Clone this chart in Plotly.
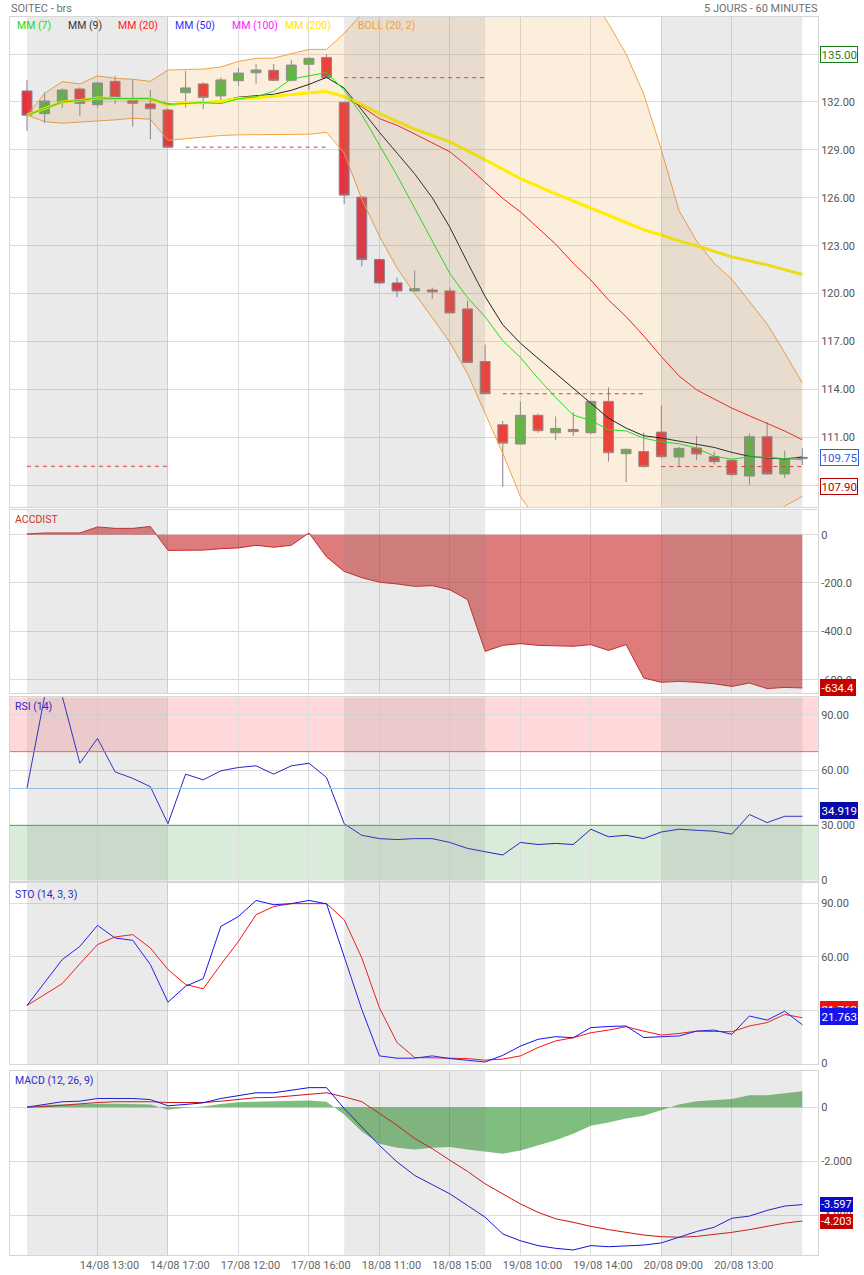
import plotly.graph_objects as go

# ---------------- data ----------------
idx = list(range(45))
opens = [132.69, 131.27, 131.98, 132.81, 131.83, 133.29, 132.14, 131.88, 131.50,
         132.58, 133.13, 132.38, 133.33, 133.83, 133.98, 133.36, 134.36, 134.79,
         131.98, 126.04, 122.13, 120.67, 120.17, 120.23, 120.17, 119.04, 115.75,
         111.79, 110.58, 112.38, 111.29, 111.50, 111.29, 113.25, 109.98, 110.11,
         111.33, 109.77, 110.33, 109.79, 109.56, 108.58, 111.04, 108.71, 109.67]
highs = [133.38, 132.60, 132.85, 132.92, 133.20, 133.63, 133.42, 132.75, 131.60,
         133.94, 133.23, 133.54, 134.13, 134.38, 134.38, 134.63, 134.80, 135.00,
         132.00, 126.10, 122.20, 121.00, 121.44, 120.38, 120.38, 119.56, 116.81,
         112.03, 113.25, 112.48, 112.31, 112.56, 113.30, 114.13, 110.30, 111.31,
         113.02, 110.40, 111.10, 110.11, 109.60, 111.25, 111.96, 110.17, 110.31]
lows = [130.20, 130.67, 131.64, 131.13, 131.64, 131.88, 130.46, 129.67, 129.17,
        131.64, 131.56, 131.86, 133.00, 133.14, 133.30, 133.30, 132.75, 133.50,
        125.60, 121.71, 120.60, 119.77, 120.10, 119.67, 118.79, 115.69, 113.73,
        107.90, 110.58, 111.29, 110.83, 111.08, 111.20, 109.48, 108.20, 109.10,
        109.70, 109.17, 109.58, 109.31, 108.60, 108.04, 108.67, 108.46, 109.27]
closes = [131.17, 132.06, 132.75, 131.92, 133.19, 132.29, 131.92, 131.58, 129.17,
          132.88, 132.29, 133.38, 133.81, 134.00, 133.36, 134.31, 134.73, 133.52,
          126.17, 122.13, 120.67, 120.17, 120.31, 120.11, 118.79, 115.69, 113.73,
          110.64, 112.38, 111.42, 111.56, 111.36, 113.25, 110.04, 110.25, 109.17,
          109.79, 110.31, 109.96, 109.48, 108.67, 111.04, 108.71, 109.67, 109.75]

ma7 = [131.17, 131.60, 132.00, 132.10, 132.25, 132.22, 132.20, 132.21, 131.85,
       131.90, 131.96, 131.90, 132.20, 132.33, 132.67, 133.44, 133.63, 133.84,
       132.75, 131.20, 129.30, 127.40, 125.35, 123.25, 121.25, 119.75, 118.55,
       117.05, 116.00, 114.70, 113.50, 112.40, 112.05, 111.48, 111.40, 110.95,
       110.72, 110.60, 110.33, 109.82, 109.63, 109.78, 109.75, 109.67, 109.60]
ma9 = [131.17, 131.58, 131.98, 132.08, 132.20, 132.18, 132.15, 132.15, 131.88,
       131.93, 131.97, 132.05, 132.30, 132.37, 132.48, 132.73, 133.10, 133.54,
       132.87, 131.50, 130.10, 128.80, 127.50, 126.00, 124.15, 121.95, 119.82,
       118.05, 116.90, 115.95, 115.00, 114.10, 113.15, 112.20, 111.58, 111.10,
       110.96, 110.75, 110.58, 110.37, 110.06, 109.81, 109.71, 109.65, 109.77]
ma20 = [131.17, 131.55, 131.98, 132.08, 132.22, 132.20, 132.17, 132.19, 131.77,
        131.92, 131.94, 132.02, 132.19, 132.25, 132.33, 132.44, 132.55, 132.62,
        132.30, 131.70, 130.96, 130.54, 130.00, 129.45, 128.88, 127.98, 127.00,
        125.96, 125.12, 124.10, 123.10, 121.90, 120.85, 119.60, 118.56, 117.35,
        116.06, 114.85, 113.98, 113.40, 112.83, 112.35, 111.90, 111.40, 110.85]
ma200 = [131.17, 131.58, 132.00, 132.10, 132.25, 132.22, 132.19, 132.21, 131.79,
         131.94, 131.96, 132.04, 132.21, 132.27, 132.35, 132.46, 132.58, 132.65,
         132.35, 131.85, 131.27, 130.79, 130.30, 129.90, 129.50, 128.95, 128.40,
         127.80, 127.20, 126.70, 126.25, 125.80, 125.35, 124.90, 124.45, 124.00,
         123.67, 123.30, 123.00, 122.65, 122.30, 122.05, 121.80, 121.50, 121.20]
boll_up = [131.17, 132.54, 133.27, 133.13, 133.63, 133.48, 133.42, 133.29, 134.00,
           134.04, 134.06, 134.19, 134.54, 134.73, 134.75, 135.02, 135.29, 135.29,
           136.30, 137.50, 138.40, 139.40, 140.00, 140.40, 140.80, 140.90, 141.50,
           142.00, 142.60, 142.30, 141.00, 139.70, 138.60, 136.90, 135.00, 132.50,
           129.00, 125.20, 123.30, 121.90, 120.90, 119.50, 118.10, 116.30, 114.40]
boll_lo = [131.17, 130.77, 130.67, 130.73, 130.79, 130.88, 130.98, 130.92, 129.60,
           129.71, 129.81, 129.90, 129.94, 129.94, 129.98, 129.98, 129.98, 130.10,
           128.80, 125.90, 123.60, 121.60, 120.00, 118.50, 116.95, 115.00, 112.55,
           110.00, 107.30, 105.70, 105.20, 104.30, 103.70, 102.20, 102.10, 102.30,
           103.10, 104.50, 104.70, 104.90, 104.80, 105.20, 105.80, 106.70, 107.30]

prev_close = [109.19, 129.17, 133.52, 113.73, 109.17]
day_first = [0, 9, 18, 27, 36]
day_last = [8, 17, 26, 35, 44]
shaded_days = [(0, 8), (18, 26), (36, 44)]

accdist = [3, 7, 7, 7, 32, 26, 26, 34, -65, -66, -64, -58, -55, -44, -52, -44, 7,
           -92, -152, -178, -197, -204, -214, -211, -228, -269, -483, -458, -451,
           -458, -460, -462, -455, -479, -455, -593, -611, -607, -611, -617, -628,
           -614, -637, -632, -634.4]
rsi = [50.1, 100, 100, 63.7, 77.2, 59.0, 55.5, 51.0, 30.9, 57.8, 54.7, 59.6, 61.4,
       62.3, 57.8, 62.3, 63.7, 56.0, 30.9, 24.6, 22.8, 22.3, 22.8, 22.8, 20.7, 17.5,
       15.7, 13.9, 20.7, 19.6, 20.2, 19.6, 27.9, 23.8, 24.6, 22.8, 26.4, 27.9, 27.3,
       26.8, 25.2, 35.9, 31.5, 34.9, 34.919]
rsi_levels = [70, 50, 30]
sto_k = [32.6, 45.5, 58.4, 65.8, 77.6, 70.5, 69.2, 55.6, 34.5, 43.4, 47.7, 77.0, 82.6,
         91.6, 89.2, 89.8, 91.6, 89.7, 60.2, 30.4, 4.3, 3.0, 3.0, 4.3, 2.8, 1.9, 0.9,
         4.6, 9.8, 13.6, 15.1, 14.5, 20.2, 20.8, 21.1, 14.6, 15.1, 15.5, 18.2, 18.8,
         16.4, 26.7, 24.4, 29.4, 21.763]
sto_d = [32.6, 38.8, 44.9, 56.0, 66.8, 71.1, 72.4, 64.9, 52.8, 44.4, 42.0, 55.6, 68.6,
         83.6, 88.2, 89.8, 89.8, 89.8, 80.8, 59.3, 31.3, 11.8, 3.4, 3.4, 3.0, 2.8, 1.9,
         2.5, 4.3, 9.0, 12.7, 14.5, 17.3, 18.8, 20.7, 18.2, 16.0, 16.9, 18.2, 18.0,
         17.9, 21.1, 23.0, 27.6, 25.7]
macd = [0, 0.10, 0.20, 0.22, 0.32, 0.32, 0.32, 0.28, 0.05, 0.10, 0.16, 0.32, 0.42,
        0.53, 0.53, 0.63, 0.72, 0.72, -0.05, -0.73, -1.41, -2.02, -2.52, -2.86, -3.20,
        -3.63, -4.06, -4.68, -4.93, -5.11, -5.21, -5.27, -5.11, -5.15, -5.11, -5.09,
        -5.01, -4.80, -4.59, -4.43, -4.10, -4.02, -3.81, -3.65, -3.597]
macd_sig = [0, 0.02, 0.07, 0.13, 0.17, 0.20, 0.21, 0.20, 0.17, 0.16, 0.17, 0.22, 0.28,
            0.35, 0.36, 0.42, 0.47, 0.53, 0.38, 0.20, -0.23, -0.67, -1.16, -1.53, -1.96,
            -2.37, -2.83, -3.20, -3.57, -3.88, -4.12, -4.25, -4.40, -4.52, -4.62, -4.72,
            -4.78, -4.80, -4.77, -4.70, -4.62, -4.52, -4.41, -4.28, -4.203]
macd_hist = [0, 0.08, 0.10, 0.12, 0.13, 0.13, 0.12, 0.10, -0.10, -0.02, 0.02, 0.12, 0.18,
             0.20, 0.20, 0.22, 0.25, 0.20, -0.27, -0.90, -1.35, -1.50, -1.56, -1.50, -1.47,
             -1.56, -1.63, -1.72, -1.60, -1.41, -1.22, -0.98, -0.69, -0.57, -0.42, -0.32,
             -0.11, 0.10, 0.22, 0.27, 0.30, 0.44, 0.44, 0.51, 0.59]

tick_idx = [4, 8, 12, 16, 20, 24, 28, 32, 36, 40]
tick_labels = ["14/08 13:00", "14/08 17:00", "17/08 12:00", "17/08 16:00", "18/08 11:00",
               "18/08 15:00", "19/08 10:00", "19/08 14:00", "20/08 09:00", "20/08 13:00"]

price_ticks = [108, 111, 114, 117, 120, 123, 126, 129, 132, 135]
acc_ticks = [0, -200, -400, -600]
acc_labels = ["0", "-200.0", "-400.0", "-600.0"]
rsi_ticks = [0, 30, 60, 90]
rsi_labels = ["0", "30.000", "60.00", "90.00"]
sto_ticks = [0, 30, 60, 90]
sto_labels = ["0", "30.00", "60.00", "90.00"]
macd_ticks = [0, -2, -4]
macd_labels = ["0", "-2.000", "-4.000"]

# ---------------- geometry helpers ----------------
W, H = 864, 1275
ML, MR, MT, MB = 10, 46, 17, 20
PW, PH = W - ML - MR, H - MT - MB


def px2x(px):
    return (px - ML) / PW


def py2y(py):
    return (H - MB - py) / PH


GRID = "#DCDCDC"
BORDER = "#D6D6D6"
TICKFONT = dict(family="Roboto", size=11, color="#555555")

fig = go.Figure()

# Bollinger band
fig.add_trace(go.Scatter(x=idx, y=boll_up, mode="lines", line=dict(color="#F4A340", width=1),
                         xaxis="x", yaxis="y", showlegend=False, hoverinfo="skip"))
fig.add_trace(go.Scatter(x=idx, y=boll_lo, mode="lines", line=dict(color="#F4A340", width=1),
                         fill="tonexty", fillcolor="rgba(240,160,60,0.18)",
                         xaxis="x", yaxis="y", showlegend=False, hoverinfo="skip"))

# previous close dashed lines
for a, b, v in zip(day_first, day_last, prev_close):
    fig.add_trace(go.Scatter(x=[a, b], y=[v, v], mode="lines",
                             line=dict(color="#E53935", width=1, dash="4px,4px"),
                             xaxis="x", yaxis="y", showlegend=False, hoverinfo="skip"))

# candles
fig.add_trace(go.Candlestick(
    x=idx, open=opens, high=highs, low=lows, close=closes,
    increasing=dict(fillcolor="#48B848", line=dict(color="#7C8A9C", width=1)),
    decreasing=dict(fillcolor="#EC2E3C", line=dict(color="#8C7C8E", width=1)),
    whiskerwidth=0, xaxis="x", yaxis="y", showlegend=False))

# moving averages
fig.add_trace(go.Scatter(x=idx, y=ma20, mode="lines", line=dict(color="#FF1A1A", width=1),
                         xaxis="x", yaxis="y", showlegend=False))
fig.add_trace(go.Scatter(x=idx, y=ma9, mode="lines", line=dict(color="#222222", width=1),
                         xaxis="x", yaxis="y", showlegend=False))
fig.add_trace(go.Scatter(x=idx, y=ma200, mode="lines", line=dict(color="#FFEE00", width=3),
                         xaxis="x", yaxis="y", showlegend=False))
fig.add_trace(go.Scatter(x=idx, y=ma7, mode="lines", line=dict(color="#1EE01E", width=1),
                         xaxis="x", yaxis="y", showlegend=False))

# ACCDIST
fig.add_trace(go.Scatter(x=idx, y=accdist, mode="lines", line=dict(color="#C62828", width=1),
                         fill="tozeroy", fillcolor="rgba(200,35,35,0.6)",
                         xaxis="x", yaxis="y2", showlegend=False))

# RSI
fig.add_trace(go.Scatter(x=idx, y=rsi, mode="lines", line=dict(color="#2424C8", width=1),
                         xaxis="x", yaxis="y3", showlegend=False))

# STO
fig.add_trace(go.Scatter(x=idx, y=sto_d, mode="lines", line=dict(color="#FF1010", width=1),
                         xaxis="x", yaxis="y4", showlegend=False))
fig.add_trace(go.Scatter(x=idx, y=sto_k, mode="lines", line=dict(color="#1010FF", width=1),
                         xaxis="x", yaxis="y4", showlegend=False))

# MACD
fig.add_trace(go.Scatter(x=idx, y=macd_hist, mode="lines", line=dict(color="rgba(0,0,0,0)", width=0),
                         fill="tozeroy", fillcolor="rgba(0,125,0,0.5)",
                         xaxis="x", yaxis="y5", showlegend=False))
fig.add_trace(go.Scatter(x=idx, y=macd_sig, mode="lines", line=dict(color="#D01010", width=1),
                         xaxis="x", yaxis="y5", showlegend=False))
fig.add_trace(go.Scatter(x=idx, y=macd, mode="lines", line=dict(color="#1010D8", width=1),
                         xaxis="x", yaxis="y5", showlegend=False))

# ---------------- shapes ----------------
shapes = []
shapes.append(dict(type="rect", xref="x domain", x0=0, x1=1, yref="y3", y0=rsi_levels[0], y1=99.5,
                   fillcolor="rgba(255,0,0,0.15)", line_width=0, layer="below"))
shapes.append(dict(type="rect", xref="x domain", x0=0, x1=1, yref="y3", y0=0, y1=rsi_levels[2],
                   fillcolor="rgba(0,128,0,0.15)", line_width=0, layer="below"))
for lv, col in zip(rsi_levels, ["#FF6060", "#9CC8F0", "#45A845"]):
    shapes.append(dict(type="line", xref="x domain", x0=0, x1=1, yref="y3", y0=lv, y1=lv,
                       line=dict(color=col, width=1), layer="above"))
for yr in ["y", "y2", "y3", "y4", "y5"]:
    for a, b in shaded_days:
        shapes.append(dict(type="rect", xref="x", x0=a, x1=b, yref=f"{yr} domain", y0=0, y1=1,
                           fillcolor="rgba(128,128,128,0.17)", line_width=0, layer="above"))

# ---------------- annotations ----------------
ann = []
ann.append(dict(xref="paper", yref="paper", x=px2x(9), y=py2y(9), xanchor="left", yanchor="middle",
                text="SOITEC - brs", showarrow=False, font=dict(family="Roboto", size=11, color="#707070")))
ann.append(dict(xref="paper", yref="paper", x=px2x(820), y=py2y(9), xanchor="right", yanchor="middle",
                text="5 JOURS - 60 MINUTES", showarrow=False,
                font=dict(family="Roboto", size=11, color="#707070")))

legend_items = [("MM (7)", "#22D822", 14.5), ("MM (9)", "#333333", 65.5), ("MM (20)", "#FF2020", 115.5),
                ("MM (50)", "#3030FF", 173), ("MM (100)", "#FF20FF", 230),
                ("MM (200)", "#FFE600", 282.5), ("BOLL (20, 2)", "#F4A040", 356)]
for t, c, px in legend_items:
    ann.append(dict(xref="paper", yref="paper", x=px2x(px), y=py2y(25), xanchor="left",
                    yanchor="middle", text=t, showarrow=False,
                    font=dict(family="Roboto", size=10.5, color=c)))

panel_titles = [("ACCDIST", "#D32F2F", 519), ("RSI (14)", "#2A2AD0", 706),
                ("STO (14, 3, 3)", "#2A2AD0", 894), ("MACD (12, 26, 9)", "#2A2AD0", 1080)]
for t, c, py in panel_titles:
    ann.append(dict(xref="paper", yref="paper", x=px2x(13), y=py2y(py), xanchor="left",
                    yanchor="middle", text=t, showarrow=False,
                    font=dict(family="Roboto", size=10.5, color=c)))


def box(yref, val, text, fg, bg, border, yanchor="middle", yshift=0, size=11.5, pad=0.5):
    return dict(xref="paper", x=px2x(820), xanchor="left", yref=yref, y=val, yanchor=yanchor,
                yshift=yshift, text=text, showarrow=False,
                font=dict(family="Roboto", size=size, color=fg), bgcolor=bg,
                bordercolor=border, borderwidth=1, borderpad=pad)


hi, lo, last = max(highs), min(lows), closes[-1]
ann.append(box("y", hi, f"{hi:.2f}", "#1B801B", "white", "#1B801B"))
ann.append(box("y", last, f"{last:.2f}", "#2F5FE0", "white", "#2F5FE0"))
ann.append(box("y", lo, f"{lo:.2f}", "#B00000", "white", "#B00000"))
ann.append(box("y2", accdist[-1], f"{accdist[-1]:.1f}", "white", "#C40000", "#C40000"))
ann.append(box("y3", rsi[-1], f"{rsi[-1]:.3f}", "white", "#0A0AA8", "#0A0AA8", yshift=6))
ann.append(box("y4", sto_d[-1], f"{sto_k[-1]:.3f}", "white", "#EE1010", "#EE1010", yanchor="bottom"))
ann.append(box("y4", sto_k[-1], f"{sto_k[-1]:.3f}", "white", "#1515EE", "#1515EE", yanchor="bottom"))
ann.append(box("y5", macd_sig[-1], f"{macd_sig[-1]:.3f}", "white", "#C40000", "#C40000", size=11, pad=0))
ann.append(box("y5", macd[-1], f"{macd[-1]:.3f}", "white", "#0A0ACC", "#0A0ACC", size=11, pad=0))


def yax(domain, rng, tv, tt):
    return dict(domain=domain, range=rng, side="right", anchor="x", tickvals=tv, ticktext=tt,
                showgrid=True, gridcolor=GRID, gridwidth=1, zeroline=False, showline=True,
                linecolor=BORDER, mirror=True, ticks="", tickfont=TICKFONT, fixedrange=True,
                automargin=False)


fig.update_layout(
    width=W, height=H, autosize=False,
    margin=dict(l=ML, r=MR, t=MT, b=MB, autoexpand=False),
    paper_bgcolor="white", plot_bgcolor="white",
    font=dict(family="Roboto", size=11, color="#555555"),
    showlegend=False, boxgap=0.2,
    xaxis=dict(domain=[0, 1], range=[-0.965, 44.89], anchor="y5", tickvals=tick_idx,
               ticktext=tick_labels, showgrid=True, gridcolor=GRID, zeroline=False,
               showline=True, linecolor=BORDER, mirror="all", ticks="", ticklabelshift=12,
               tickfont=dict(family="Roboto", size=11, color="#666666"),
               rangeslider=dict(visible=False), fixedrange=True, automargin=False),
    yaxis=yax([0.6042, 1.0], [106.64, 137.32], price_ticks, [f"{v:.2f}" for v in price_ticks]),
    yaxis2=yax([0.4540, 0.6015], [-655, 100.6], acc_ticks, acc_labels),
    yaxis3=yax([0.3024, 0.4505], [0, 99.5], rsi_ticks, rsi_labels),
    yaxis4=yax([0.1540, 0.3002], [-0.45, 101.2], sto_ticks, sto_labels),
    yaxis5=yax([0.0, 0.1486], [-5.456, 1.333], macd_ticks, macd_labels),
    shapes=shapes, annotations=ann,
)

fig.write_html(
    "out.html",
    config={"displayModeBar": False, "responsive": False},
    post_script="document.body.style.margin='0px';"
                "document.documentElement.style.overflow='hidden';"
                "document.body.style.overflow='hidden';",
)
